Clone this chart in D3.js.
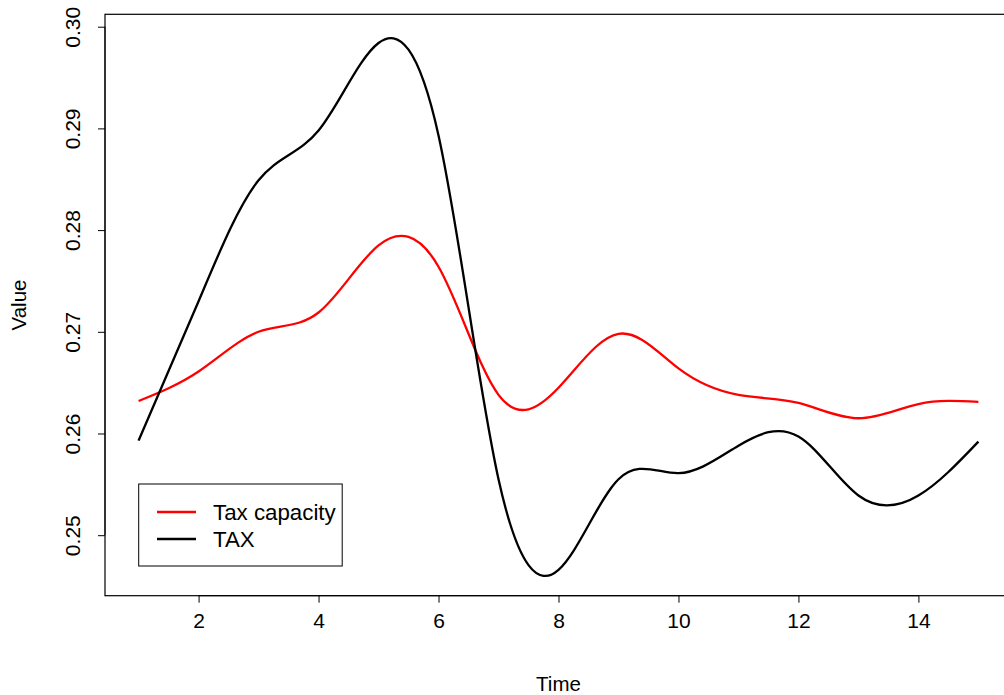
<!DOCTYPE html>
<html>
<head>
<meta charset="utf-8">
<script src="https://cdn.jsdelivr.net/npm/d3@7"></script>
<style>
  html, body { margin: 0; padding: 0; background: #fff; }
  svg { display: block; }
  text { font-family: "Liberation Sans", Arial, sans-serif; fill: #000; }
</style>
</head>
<body>
<svg id="chart" width="1004" height="695"></svg>
<script>
// ---- data ----
const time = [1, 2, 3, 4, 5, 6, 7, 8, 9, 10, 11, 12, 13, 14, 15];
const taxCapacity = [0.2632, 0.2661, 0.2700, 0.2719, 0.2785, 0.2764, 0.2638, 0.2645, 0.2698, 0.2664, 0.2638, 0.2630, 0.2615, 0.2629, 0.2631];
const tax = [0.2593, 0.2730, 0.2849, 0.2898, 0.2984, 0.2893, 0.2555, 0.2466, 0.2555, 0.2561, 0.2588, 0.2597, 0.2539, 0.2539, 0.2592];
const xTicks = [2, 4, 6, 8, 10, 12, 14];
const yTicks = [0.25, 0.26, 0.27, 0.28, 0.29, 0.30];
const seriesNames = ["Tax capacity", "TAX"];
const seriesColors = ["#ff0000", "#000000"];

// ---- layout ----
const svg = d3.select("#chart");
const plot = { left: 105, right: 1012, top: 14.3, bottom: 595.7 };

const x = d3.scaleLinear().domain([0.44, 15.56]).range([plot.left, plot.right]);
const y = d3.scaleLinear().domain([0.24405, 0.30122]).range([plot.bottom, plot.top]);

const tickFont = 21, titleFont = 20.5, legendFont = 22.3;

// lines
const line = d3.line()
  .x((d, i) => x(time[i]))
  .y(d => y(d))
  .curve(d3.curveNatural);

[taxCapacity, tax].forEach((s, k) => {
  svg.append("path")
    .attr("d", line(s))
    .attr("fill", "none")
    .attr("stroke", seriesColors[k])
    .attr("stroke-width", 2.3)
    .attr("stroke-linejoin", "round");
});

// box
svg.append("rect")
  .attr("x", plot.left).attr("y", plot.top)
  .attr("width", plot.right - plot.left).attr("height", plot.bottom - plot.top)
  .attr("fill", "none").attr("stroke", "#000").attr("stroke-width", 1.2);

// x axis
const xAxis = d3.axisBottom(x).tickValues(xTicks).tickSize(7).tickPadding(4)
  .tickFormat(d3.format("d"));
const gx = svg.append("g").attr("transform", `translate(0,${plot.bottom})`).call(xAxis);
gx.select(".domain").attr("d", `M${x(xTicks[0])},0H${x(xTicks[xTicks.length - 1])}`);
gx.selectAll("line").attr("stroke-width", 1);
gx.selectAll(".tick text")
  .attr("font-size", tickFont)
  .attr("y", 0).attr("dy", "0.71em")
  .attr("transform", "translate(0,17)");
gx.attr("font-family", null);

// y axis
const yAxis = d3.axisLeft(y).tickValues(yTicks).tickSize(7)
  .tickFormat(d3.format(".2f"));
const gy = svg.append("g").attr("transform", `translate(${plot.left},0)`).call(yAxis);
gy.select(".domain").attr("d", `M0,${y(yTicks[0])}V${y(yTicks[yTicks.length - 1])}`);
gy.selectAll("line").attr("stroke-width", 1);
gy.selectAll(".tick text")
  .attr("font-size", tickFont)
  .attr("x", null).attr("dy", null)
  .attr("text-anchor", "middle")
  .attr("transform", "translate(-25,0) rotate(-90)");
gy.attr("font-family", null);

// axis titles
svg.append("text").attr("x", (plot.left + plot.right) / 2).attr("y", 691)
  .attr("text-anchor", "middle").attr("font-size", titleFont).text("Time");
svg.append("text").attr("transform", `translate(26,${(plot.top + plot.bottom) / 2}) rotate(-90)`)
  .attr("text-anchor", "middle").attr("font-size", titleFont).text("Value");

// legend
const lg = svg.append("g");
lg.append("rect").attr("x", 138.7).attr("y", 484).attr("width", 203.5).attr("height", 82)
  .attr("fill", "#fff").attr("stroke", "#000").attr("stroke-width", 1);
seriesNames.forEach((n, k) => {
  const yy = 512 + k * 27;
  lg.append("line").attr("x1", 157).attr("x2", 196).attr("y1", yy).attr("y2", yy)
    .attr("stroke", seriesColors[k]).attr("stroke-width", 2.3);
  lg.append("text").attr("x", 213).attr("y", yy + 8).attr("font-size", legendFont).text(n);
});
</script>
</body>
</html>
